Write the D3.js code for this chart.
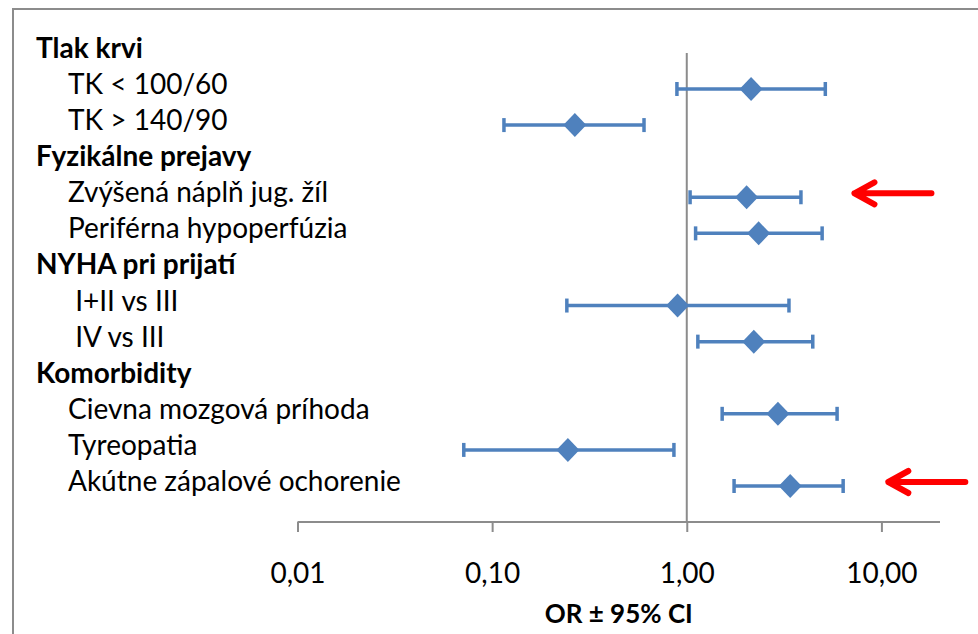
<!DOCTYPE html>
<html>
<head>
<meta charset="utf-8">
<script src="https://cdn.jsdelivr.net/npm/d3@7"></script>
<style>
    body { margin: 0; background: #fff; }
    text { font-family: Lato, "Open Sans", sans-serif; fill: #000; }
</style>
</head>
<body>
<div id="chart"></div>
<script>
// rows of the forest plot, top to bottom (headers have no estimate)
var rowLabels = ["Tlak krvi", "TK < 100/60", "TK > 140/90", "Fyzikálne prejavy",
    "Zvýšená náplň jug. žíl", "Periférna hypoperfúzia", "NYHA pri prijatí",
    " I+II vs III", " IV vs III", "Komorbidity", "Cievna mozgová príhoda",
    "Tyreopatia", "Akútne zápalové ochorenie"];
var isHeader = [true, false, false, true, false, false, true, false, false, true, false, false, false];
// odds ratio and 95% CI
var orValues = [null, 2.14, 0.266, null, 2.03, 2.34, null, 0.897, 2.21, null, 2.94, 0.245, 3.40];
var ciLow = [null, 0.89, 0.115, null, 1.04, 1.11, null, 0.242, 1.14, null, 1.52, 0.0715, 1.75];
var ciHigh = [null, 5.15, 0.603, null, 3.86, 4.96, null, 3.35, 4.44, null, 5.92, 0.859, 6.36];
var tickValues = [0.01, 0.1, 1, 10];
var tickLabels = ["0,01", "0,10", "1,00", "10,00"];
var axisTitle = "OR ± 95% CI";
// red arrows pointing at highlighted rows (tip position in OR units)
var arrowRows = ["Zvýšená náplň jug. žíl", "Akútne zápalové ochorenie"];
var arrowTips = [7.1, 10.6];

var w = 978, h = 634;
var blue = "#4F81BD";

var svg = d3.select("#chart").append("svg")
    .attr("width", w)
    .attr("height", h);

// outer frame of the chart area (runs off the right and bottom edge)
svg.append("rect")
    .attr("x", 13).attr("y", 9)
    .attr("width", w + 20).attr("height", h + 20)
    .attr("fill", "none")
    .attr("stroke", "#8c8c8c")
    .attr("stroke-width", 2);

var x = d3.scaleLog()
    .domain([0.01, 20])
    .range([297.5, 940]);

var y = d3.scalePoint()
    .domain(rowLabels)
    .range([52.9, 486]);

var axisY = 522;

// row labels
svg.append("g")
    .selectAll("text")
    .data(rowLabels)
    .enter()
    .append("text")
    .attr("x", function (d, i) { return isHeader[i] ? 36 : 68; })
    .attr("y", function (d) { return y(d) + 5; })
    .style("white-space", "pre")
    .style("font-size", "28px")
    .style("font-weight", function (d, i) { return isHeader[i] ? "bold" : "normal"; })
    .text(function (d) { return d; });

// vertical reference line at OR = 1
svg.append("line")
    .attr("x1", x(1)).attr("x2", x(1))
    .attr("y1", y(rowLabels[0])).attr("y2", axisY)
    .attr("stroke", "#8c8c8c")
    .attr("stroke-width", 2);

// x axis
var xAxis = d3.axisBottom(x)
    .tickValues(tickValues)
    .tickFormat(function (d, i) { return tickLabels[i]; })
    .tickSize(10)
    .tickPadding(31);

var gx = svg.append("g")
    .attr("transform", "translate(0," + axisY + ")")
    .call(xAxis);
gx.select(".domain")
    .attr("d", "M" + x.range()[0] + ",0H" + x.range()[1])
    .attr("stroke", "#8c8c8c")
    .attr("stroke-width", 2);
gx.selectAll(".tick line")
    .attr("stroke", "#8c8c8c")
    .attr("stroke-width", 2);
gx.selectAll(".tick text")
    .style("font-family", "Lato, sans-serif")
    .style("font-size", "28px")
    .attr("fill", "#000");

svg.append("text")
    .attr("x", (x.range()[0] + x.range()[1]) / 2)
    .attr("y", 623)
    .attr("text-anchor", "middle")
    .style("font-size", "26px")
    .style("font-weight", "bold")
    .text(axisTitle);

// error bars and diamonds
var rows = rowLabels.map(function (d, i) {
    return { label: d, or: orValues[i], lo: ciLow[i], hi: ciHigh[i] };
}).filter(function (d) { return d.or !== null; });

var marks = svg.append("g").selectAll("g")
    .data(rows)
    .enter()
    .append("g")
    .attr("transform", function (d) { return "translate(0," + y(d.label) + ")"; });

marks.append("line")
    .attr("x1", function (d) { return x(d.lo); })
    .attr("x2", function (d) { return x(d.hi); })
    .attr("stroke", blue)
    .attr("stroke-width", 3.5);

marks.selectAll(".cap")
    .data(function (d) { return [d.lo, d.hi]; })
    .enter()
    .append("line")
    .attr("class", "cap")
    .attr("x1", function (v) { return x(v); })
    .attr("x2", function (v) { return x(v); })
    .attr("y1", -7).attr("y2", 7)
    .attr("stroke", blue)
    .attr("stroke-width", 3.5);

marks.append("path")
    .attr("d", "M0,-12L11.5,0L0,12L-11.5,0Z")
    .attr("transform", function (d) { return "translate(" + x(d.or) + ",0)"; })
    .attr("fill", blue);

// red annotation arrows
var arrows = svg.append("g").selectAll("g")
    .data(arrowRows)
    .enter()
    .append("g")
    .attr("transform", function (d, i) {
        return "translate(" + x(arrowTips[i]) + "," + (y(d) - 4) + ")";
    });

arrows.append("path")
    .attr("d", "M2,0H79M22,-11L2,0L22,11")
    .attr("fill", "none")
    .attr("stroke", "#ff0000")
    .attr("stroke-width", 6)
    .attr("stroke-linecap", "round")
    .attr("stroke-linejoin", "round");
</script>
</body>
</html>
